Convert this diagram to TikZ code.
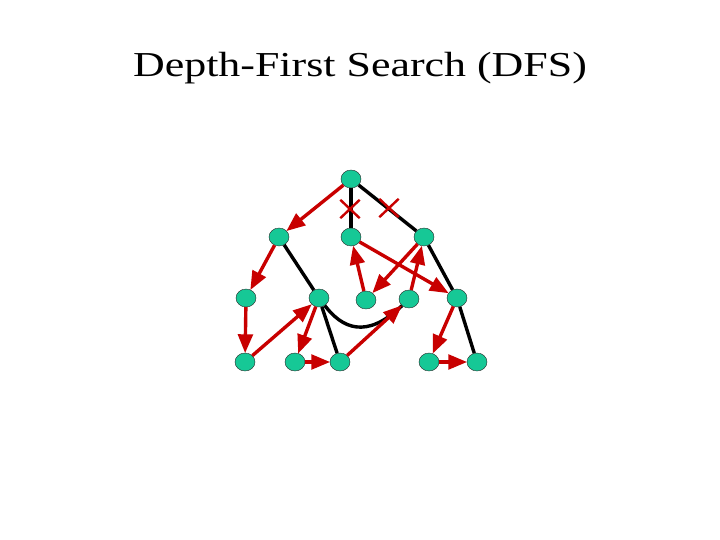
\documentclass[tikz,border=0pt]{standalone}
\usepackage{fontspec}
\setmainfont{Liberation Serif}
\usepackage{tikz}
\usetikzlibrary{arrows,shapes}
\definecolor{nodegreen}{RGB}{22,200,150}
\definecolor{dfsred}{RGB}{200,0,0}
\tikzstyle{vertex}=[ellipse,draw=black!85,fill=nodegreen,minimum width=20pt,minimum height=18pt,inner sep=0pt,thin]
\tikzstyle{edge} = [draw,line width=3.4pt,black]
\tikzstyle{visit} = [draw,line width=3.4pt,dfsred,->,>=triangle 45]
\tikzstyle{cut} = [cross out,draw=dfsred,line width=2.4pt,minimum width=17pt,minimum height=16pt,inner sep=0pt]

\begin{document}
\begin{tikzpicture}[x=1pt,y=-1pt]
	\useasboundingbox (0,0) rectangle (720,540);
	\node[anchor=base,xscale=1.255] (title) at (360,77) {\fontsize{35}{42}\selectfont Depth-First Search (DFS)};
	
	\foreach \pos/\name in {{(351,179)/1},{(279,237)/2},{(351,237)/3},{(424,237)/4},
		{(246,298)/5},{(319,298)/6},{(366,300)/7},{(409,299)/8},{(457,298)/9},
		{(245,362)/10},{(295,362)/11},{(340,362)/12},{(429,362)/13},{(477,362)/14}}
	\node[vertex] (\name) at \pos {};
	
	\foreach \source/\dest in {1/3,1/4,2/6,6/12,4/9,9/14}
	\path[edge] (\source) -- (\dest);
	\path[edge] (6) .. controls (342,328) and (366,340) .. (8);
	
	\foreach \source/\dest in {1/2,2/5,5/10,10/6,6/11,11/12,12/8,8/4,4/7,7/3,3/9,9/13,13/14}
	\path[visit] (\source) -- (\dest);
	
	\node[cut] (x1) at (350,209) {};
	\node[cut] (x2) at (389,208) {};
\end{tikzpicture}
\end{document}
